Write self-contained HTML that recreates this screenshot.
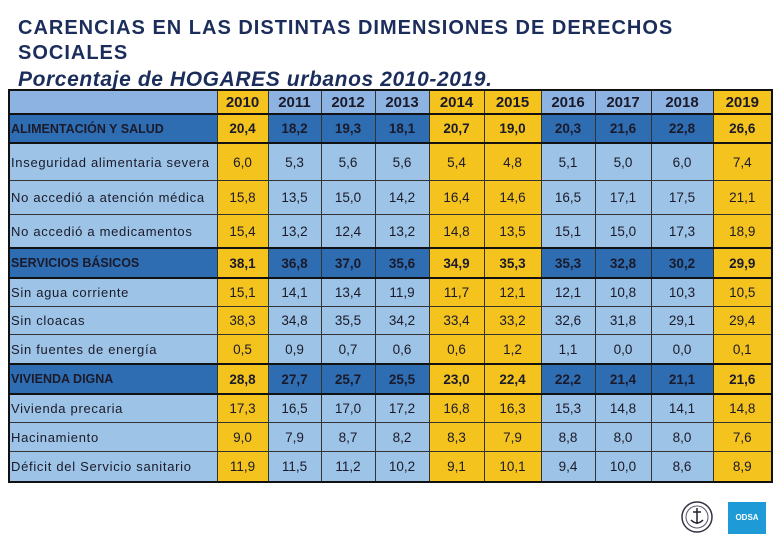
<!DOCTYPE html>
<html><head><meta charset="utf-8"><style>
body{margin:0;width:780px;height:540px;background:#fff;position:relative;overflow:hidden;font-family:"Liberation Sans",sans-serif}
.t1{position:absolute;left:18px;top:16px;font-size:20px;font-weight:bold;color:#1b2d5a;line-height:25px;letter-spacing:1px}
.t2{position:absolute;left:18px;top:68px;font-size:21px;color:#1b2d5a;font-style:italic;font-weight:bold;line-height:24px;height:21px;overflow:hidden;letter-spacing:0.6px}
table{position:absolute;left:8px;top:89px;border-collapse:collapse;table-layout:fixed;border:2px solid #111}
td{border:1px solid #333;padding:0;text-align:center;font-size:13.5px;color:#1a1a2a;white-space:nowrap;overflow:hidden}
td.l{text-align:left;padding-left:1px;font-size:13px;letter-spacing:0.7px}
tr.h td{background:#8db3e2;font-weight:bold;font-size:15px;height:22px}
tr.c td{background:#2f6db3;font-weight:bold;border-top:2px solid #111;border-bottom:2px solid #111}
tr.c td.l{font-size:12.5px;letter-spacing:0}
tr.s td{background:#9dc3e6}
tr td.y{background:#f5c31e}
</style></head><body>
<div class="t1">CARENCIAS EN LAS DISTINTAS DIMENSIONES DE DERECHOS<br>SOCIALES</div>
<div class="t2">Porcentaje de HOGARES urbanos 2010-2019.</div>
<table id="tb">
<colgroup><col style="width:208px"><col style="width:51px"><col style="width:53px"><col style="width:54px"><col style="width:54px"><col style="width:55px"><col style="width:57px"><col style="width:54px"><col style="width:56px"><col style="width:62px"><col style="width:59px"></colgroup>
</table>
<svg style="position:absolute;left:680px;top:500px" width="34" height="34"><circle cx="17" cy="17" r="15" fill="#fff" stroke="#334" stroke-width="1.5"/><circle cx="17" cy="17" r="11" fill="none" stroke="#556" stroke-width="1"/><path d="M17 8v16M13 12h8M11 20q6 6 12 0" stroke="#223" fill="none" stroke-width="1.5"/></svg>
<div style="position:absolute;left:728px;top:502px;width:38px;height:32px;background:#1e9ad6;color:#fff;font-size:8px;font-weight:bold;line-height:32px;text-align:center">ODSA</div>
<script>
const years=["2010","2011","2012","2013","2014","2015","2016","2017","2018","2019"];
const yellowCols=[0,4,5,9];
const labels=["ALIMENTACIÓN Y SALUD","Inseguridad alimentaria severa","No accedió a atención médica","No accedió a medicamentos","SERVICIOS BÁSICOS","Sin agua corriente","Sin cloacas","Sin fuentes de energía","VIVIENDA DIGNA","Vivienda precaria","Hacinamiento","Déficit del Servicio sanitario"];
const isCat=[1,0,0,0,1,0,0,0,1,0,0,0];
const rowH=[28,37,34,33,29,28,28,29,29,28,29,30];
const values=[
["20,4","18,2","19,3","18,1","20,7","19,0","20,3","21,6","22,8","26,6"],
["6,0","5,3","5,6","5,6","5,4","4,8","5,1","5,0","6,0","7,4"],
["15,8","13,5","15,0","14,2","16,4","14,6","16,5","17,1","17,5","21,1"],
["15,4","13,2","12,4","13,2","14,8","13,5","15,1","15,0","17,3","18,9"],
["38,1","36,8","37,0","35,6","34,9","35,3","35,3","32,8","30,2","29,9"],
["15,1","14,1","13,4","11,9","11,7","12,1","12,1","10,8","10,3","10,5"],
["38,3","34,8","35,5","34,2","33,4","33,2","32,6","31,8","29,1","29,4"],
["0,5","0,9","0,7","0,6","0,6","1,2","1,1","0,0","0,0","0,1"],
["28,8","27,7","25,7","25,5","23,0","22,4","22,2","21,4","21,1","21,6"],
["17,3","16,5","17,0","17,2","16,8","16,3","15,3","14,8","14,1","14,8"],
["9,0","7,9","8,7","8,2","8,3","7,9","8,8","8,0","8,0","7,6"],
["11,9","11,5","11,2","10,2","9,1","10,1","9,4","10,0","8,6","8,9"]];
const tb=document.getElementById('tb');
let tr=document.createElement('tr');tr.className='h';


tr.appendChild(document.createElement('td'));
years.forEach((y,i)=>{const td=document.createElement('td');td.textContent=y;if(yellowCols.includes(i))td.className='y';


tr.appendChild(td);});
tb.appendChild(tr);
labels.forEach((lab,r)=>{const row=document.createElement('tr');row.className=isCat[r]?'c':'s';


const l=document.createElement('td');l.className='l';l.textContent=lab;l.style.height=(rowH[r]-1)+'px';


row.appendChild(l);
values[r].forEach((v,i)=>{const td=document.createElement('td');td.textContent=v;if(yellowCols.includes(i))td.className='y';


row.appendChild(td);});
tb.appendChild(row);});
</script>
</body></html>
